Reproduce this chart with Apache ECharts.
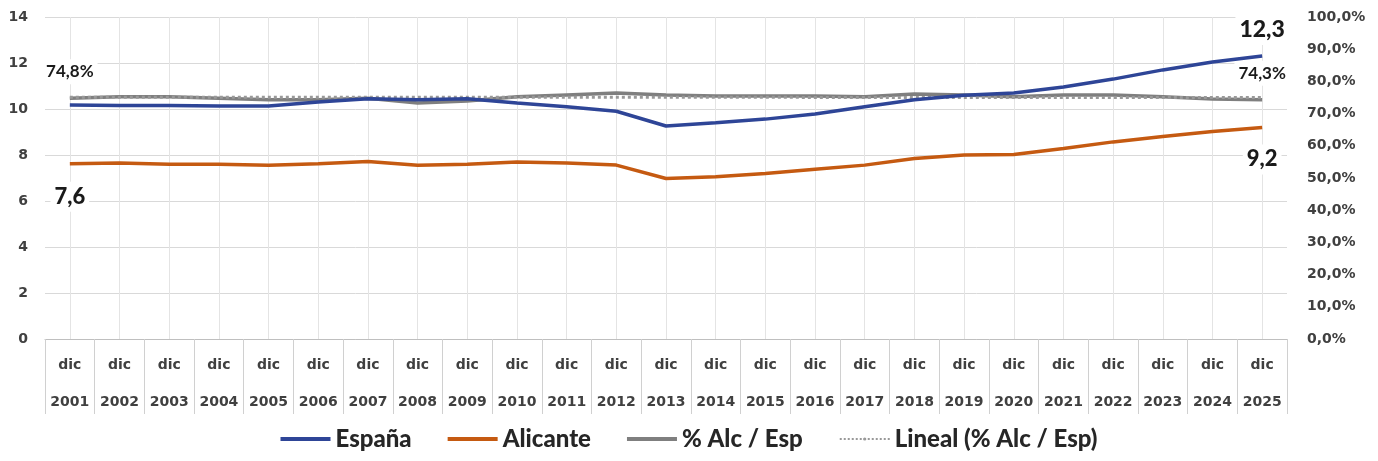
<!DOCTYPE html>
<html><head><meta charset="utf-8">
<script src="https://cdn.jsdelivr.net/npm/echarts@6/dist/echarts.min.js"></script>
<style>html,body{margin:0;padding:0;background:#fff}#c{width:1378px;height:461px}</style>
</head><body><div id="c"></div>
<script>
const years = ['2001','2002','2003','2004','2005','2006','2007','2008','2009','2010','2011','2012','2013','2014','2015','2016','2017','2018','2019','2020','2021','2022','2023','2024','2025'];
const espana = [10.17,10.15,10.15,10.13,10.13,10.3,10.45,10.4,10.45,10.26,10.1,9.9,9.26,9.4,9.56,9.78,10.1,10.4,10.6,10.7,10.96,11.3,11.7,12.04,12.3];
const alicante = [7.62,7.65,7.6,7.6,7.55,7.62,7.72,7.55,7.6,7.7,7.65,7.56,6.98,7.05,7.2,7.38,7.56,7.85,8.0,8.02,8.28,8.57,8.8,9.02,9.2];
const pctAlcEsp = [74.8,75.2,75.2,74.8,74.3,74.3,74.8,73.3,73.9,75.2,75.8,76.4,75.8,75.5,75.5,75.5,75.2,76.1,75.8,75.2,75.8,75.8,75.2,74.5,74.3];
const trendEnds = [75.1,75.0];
const leftTicks = [0,2,4,6,8,10,12,14];
const rightTicks = [0,10,20,30,40,50,60,70,80,90,100];

const FONT = 'Lato';
const AXFONT = 'DejaVu Sans';
const fmt1 = v => v.toFixed(1).replace('.', ',');
const lbl = (pos, dist, size, weight, text) => ({
  show: true, position: pos, distance: dist, formatter: text,
  fontFamily: FONT, fontSize: size, fontWeight: weight, color: '#1a1a1a',
  backgroundColor: '#fff', padding: [4, 4]
});
const n = years.length - 1;
const espData = espana.map((v, i) => i === n ? {value: v, label: lbl('top', 11, 23, 900, fmt1(v))} : v);
const aliData = alicante.map((v, i) => {
  if (i === 0) return {value: v, label: lbl('bottom', 18, 22, 900, fmt1(v))};
  if (i === n) return {value: v, label: lbl('bottom', 17, 22, 900, fmt1(v))};
  return v;
});
const pctData = pctAlcEsp.map((v, i) => (i === 0 || i === n) ? {value: v, label: lbl('top', 14, 17, 700, fmt1(v) + '%')} : v);
const trendData = years.map((y, i) => i === 0 ? trendEnds[0] : (i === n ? trendEnds[1] : null));

const chart = echarts.init(document.getElementById('c'));
chart.setOption({
  animation: false,
  grid: {left: 45, right: 91, top: 17, bottom: 122},
  legend: {
    bottom: 5, left: 'center', itemWidth: 50, itemHeight: 4, itemGap: 36,
    textStyle: {fontFamily: FONT, fontSize: 24, fontWeight: 900, color: '#262626'},
    data: [
      {name: 'España', icon: 'rect'},
      {name: 'Alicante', icon: 'rect'},
      {name: '% Alc / Esp', icon: 'rect'},
      {name: 'Lineal (% Alc / Esp)'}
    ]
  },
  xAxis: {
    type: 'category', data: years, boundaryGap: true,
    axisLine: {lineStyle: {color: '#bfbfbf', width: 1}},
    axisTick: {show: true, length: 75, interval: 0, lineStyle: {color: '#d0d0d0'}},
    splitLine: {show: true, alignWithLabel: true, interval: 0, lineStyle: {color: '#e4e4e4'}},
    axisLabel: {
      interval: 0, margin: 8, formatter: v => 'dic\n' + v,
      fontFamily: AXFONT, fontSize: 14, fontWeight: 'bold', color: '#404040', lineHeight: 37
    }
  },
  yAxis: [
    {
      type: 'value', min: 0, max: 14, interval: 2,
      axisLine: {show: false}, axisTick: {show: false},
      splitLine: {lineStyle: {color: '#d9d9d9'}},
      axisLabel: {margin: 17, fontFamily: AXFONT, fontSize: 14, fontWeight: 'bold', color: '#404040',
        formatter: v => leftTicks.includes(v) ? String(v) : ''}
    },
    {
      type: 'value', min: 0, max: 100, interval: 10, position: 'right',
      axisLine: {show: false}, axisTick: {show: false}, splitLine: {show: false},
      axisLabel: {margin: 20, fontFamily: AXFONT, fontSize: 14, fontWeight: 'bold', color: '#404040',
        formatter: v => rightTicks.includes(v) ? fmt1(v) + '%' : ''}
    }
  ],
  series: [
    {name: 'Lineal (% Alc / Esp)', type: 'line', yAxisIndex: 1, data: trendData, connectNulls: true,
      symbol: 'none', z: 4, lineStyle: {type: 'dotted', width: 3, color: '#999999'}, itemStyle: {color: '#999999'}},
    {name: '% Alc / Esp', type: 'line', yAxisIndex: 1, data: pctData, symbol: 'circle', symbolSize: 0, showSymbol: true, z: 3,
      label: {fontWeight: 700, fontFamily: FONT},
      lineStyle: {width: 3.5, color: '#7f7f7f'}, itemStyle: {color: '#7f7f7f'}},
    {name: 'España', type: 'line', data: espData, symbol: 'circle', symbolSize: 0, showSymbol: true, z: 5,
      label: {fontWeight: 900, fontFamily: FONT},
      lineStyle: {width: 3.5, color: '#2e4597'}, itemStyle: {color: '#2e4597'}},
    {name: 'Alicante', type: 'line', data: aliData, symbol: 'circle', symbolSize: 0, showSymbol: true, z: 5,
      label: {fontWeight: 900, fontFamily: FONT},
      lineStyle: {width: 3.5, color: '#c55a11'}, itemStyle: {color: '#c55a11'}}
  ]
});
</script></body></html>
